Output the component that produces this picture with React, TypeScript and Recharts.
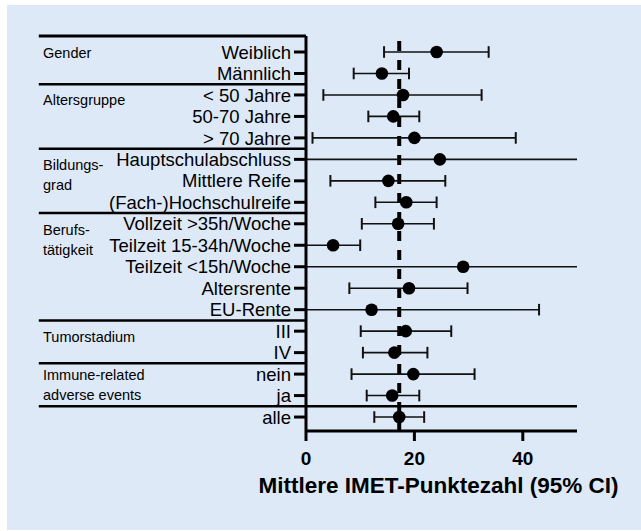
import { ScatterChart, Scatter, XAxis, YAxis, ReferenceLine } from "recharts";

// Zeilen (von oben nach unten)
const rowLabels = [
  "Weiblich",
  "Männlich",
  "< 50 Jahre",
  "50-70 Jahre",
  "> 70 Jahre",
  "Hauptschulabschluss",
  "Mittlere Reife",
  "(Fach-)Hochschulreife",
  "Vollzeit >35h/Woche",
  "Teilzeit 15-34h/Woche",
  "Teilzeit <15h/Woche",
  "Altersrente",
  "EU-Rente",
  "III",
  "IV",
  "nein",
  "ja",
  "alle",
];

const means = [24.1, 14.0, 17.9, 16.1, 20.0, 24.7, 15.2, 18.5, 17.0, 5.0, 29.0, 19.0, 12.1, 18.4, 16.3, 19.8, 15.9, 17.2];
const lower = [14.4, 8.8, 3.2, 11.5, 1.2, -2, 4.5, 12.8, 10.3, -1, -3, 8.0, -1, 10.1, 10.5, 8.4, 11.2, 12.6];
const upper = [33.7, 19.0, 32.4, 20.9, 38.7, 55, 25.7, 24.1, 23.6, 10.0, 60, 29.8, 43.0, 26.8, 22.4, 31.1, 20.9, 21.8];

const overallMean = 17.2;

// Gruppen: erste Zeile + Beschriftung
const groupRows = [1, 3, 6, 9, 14, 16];
const groupLines = [
  ["Gender"],
  ["Altersgruppe"],
  ["Bildungs-", "grad"],
  ["Berufs-", "tätigkeit"],
  ["Tumorstadium"],
  ["Immune-related", "adverse events"],
];
const groupShift = [1, 5, 5, 6, 6, 1];

const separators = [2.5, 5.5, 8.5, 13.5, 15.5];
const lastSeparator = 17.5;

const xTicks = [0, 20, 40];
const rowTicks = rowLabels.map((_, i) => i + 1);

const Y_MIN = 0.255;
const Y_MAX = 18.65;
const LEFT_X = -49.3;
const CAP = 0.27;
const FONT = "'Liberation Sans', Arial, Helvetica, sans-serif";

const points = means.map((m, i) => ({ x: m, y: i + 1 }));

function RowTick(props: any) {
  const { x, y, payload } = props;
  const gi = groupRows.indexOf(payload.value);
  return (
    <g>
      <text x={x} y={y} dy="0.36em" textAnchor="end" fontSize={18.5} fill="#000">
        {rowLabels[payload.value - 1]}
      </text>
      {gi >= 0 &&
        groupLines[gi].map((t, k) => (
          <text key={k} x={36} y={y + groupShift[gi] + k * 20} dy="0.36em" fontSize={14.5} fill="#000">
            {t}
          </text>
        ))}
    </g>
  );
}

export default function App() {
  return (
    <div
      style={{
        position: "absolute",
        left: 7,
        top: 5,
        width: 634,
        height: 525,
        background: "#dde9f6",
        fontFamily: FONT,
      }}
    >
      <ScatterChart width={634} height={525} margin={{ top: 31, right: 64, bottom: 29, left: 0 }}>
        <XAxis
          type="number"
          dataKey="x"
          domain={[0, 50]}
          allowDataOverflow
          ticks={xTicks}
          tickSize={10}
          tickMargin={11}
          height={70}
          axisLine={{ stroke: "#000", strokeWidth: 3 }}
          tickLine={{ stroke: "#000", strokeWidth: 3 }}
          tick={{ fontSize: 19, fontWeight: 700, fill: "#000" }}
          label={{
            value: "Mittlere IMET-Punktezahl (95% CI)",
            position: "insideBottom",
            offset: 8,
            dx: -3,
            fontSize: 22.5,
            fontWeight: 700,
            fill: "#000",
          }}
        />
        <YAxis
          type="number"
          dataKey="y"
          reversed
          domain={[Y_MIN, Y_MAX]}
          allowDataOverflow
          ticks={rowTicks}
          interval={0}
          width={299}
          tickSize={12}
          tickMargin={3}
          axisLine={{ stroke: "#000", strokeWidth: 3 }}
          tickLine={{ stroke: "#000", strokeWidth: 3 }}
          tick={<RowTick />}
        />

        {/* Trennlinien links */}
        <ReferenceLine
          segment={[{ x: LEFT_X, y: Y_MIN }, { x: 0, y: Y_MIN }]}
          stroke="#000"
          strokeWidth={3}
          ifOverflow="visible"
        />
        {separators.map((s) => (
          <ReferenceLine
            key={`sep-${s}`}
            segment={[{ x: LEFT_X, y: s }, { x: 0, y: s }]}
            stroke="#000"
            strokeWidth={2.5}
            ifOverflow="visible"
          />
        ))}
        <ReferenceLine
          segment={[{ x: LEFT_X, y: lastSeparator }, { x: 50, y: lastSeparator }]}
          stroke="#000"
          strokeWidth={2.5}
          ifOverflow="visible"
        />

        {/* Gesamtmittelwert */}
        <ReferenceLine x={overallMean} stroke="#000" strokeWidth={4} strokeDasharray="10 9" />

        {/* Konfidenzintervalle */}
        {means.map((_, i) => (
          <ReferenceLine
            key={`ci-${i}`}
            segment={[{ x: lower[i], y: i + 1 }, { x: upper[i], y: i + 1 }]}
            stroke="#111"
            strokeWidth={1.6}
            ifOverflow="hidden"
          />
        ))}
        {means.map((_, i) =>
          lower[i] > 0 ? (
            <ReferenceLine
              key={`capl-${i}`}
              segment={[{ x: lower[i], y: i + 1 - CAP }, { x: lower[i], y: i + 1 + CAP }]}
              stroke="#111"
              strokeWidth={2}
              ifOverflow="visible"
            />
          ) : null
        )}
        {means.map((_, i) =>
          upper[i] < 50 ? (
            <ReferenceLine
              key={`capu-${i}`}
              segment={[{ x: upper[i], y: i + 1 - CAP }, { x: upper[i], y: i + 1 + CAP }]}
              stroke="#111"
              strokeWidth={2}
              ifOverflow="visible"
            />
          ) : null
        )}

        <Scatter
          data={points}
          isAnimationActive={false}
          shape={(p: any) => <circle cx={p.cx} cy={p.cy} r={6.3} fill="#000" />}
        />
      </ScatterChart>
    </div>
  );
}
